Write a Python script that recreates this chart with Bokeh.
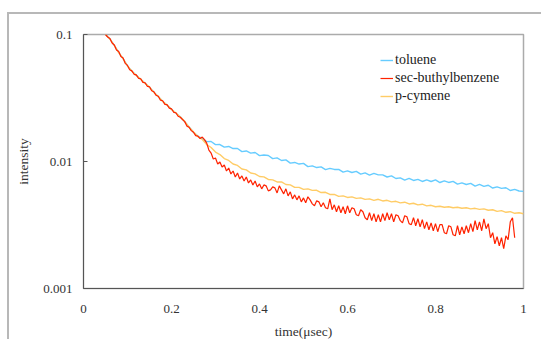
import numpy as np
from bokeh.plotting import figure
from bokeh.models import FixedTicker, CustomJSTickFormatter, Legend, LegendItem
from bokeh.embed import file_html
from bokeh.resources import INLINE

series_names = ["toluene", "sec-buthylbenzene", "p-cymene"]
x_ticks = [0, 0.2, 0.4, 0.6, 0.8, 1.0]
y_ticks = [0.001, 0.01, 0.1]

# time grids (usec)
time_tol = np.round(np.arange(0.05, 1.0001, 0.01), 3)     # toluene, p-cymene
time_sec = np.round(np.arange(0.05, 0.9801, 0.005), 3)    # sec-buthylbenzene

toluene = [
    0.1000, 0.0922, 0.0820, 0.0723, 0.0643, 0.0566, 0.0513, 0.0477, 0.0444, 0.0413,
    0.0384, 0.0351, 0.0324, 0.0298, 0.0277, 0.0258, 0.0240, 0.0225, 0.0206, 0.0187,
    0.0170,
    0.01585, 0.01516, 0.01434, 0.01437, 0.01358, 0.01360, 0.01297, 0.01314, 0.01265, 0.01267,
    0.01196, 0.01210, 0.01165, 0.01178, 0.01112, 0.01126, 0.01116, 0.01054, 0.01067, 0.01018,
    0.01029, 0.00971, 0.00983, 0.00955, 0.00966, 0.00911, 0.00923, 0.00896, 0.00907, 0.00864,
    0.00882, 0.00866, 0.00867, 0.00825, 0.00843, 0.00819, 0.00836, 0.00796, 0.00813, 0.00782,
    0.00807, 0.00784, 0.00784, 0.00755, 0.00771, 0.00735, 0.00743, 0.00714, 0.00736, 0.00709,
    0.00723, 0.00696, 0.00717, 0.00696, 0.00717, 0.00683, 0.00704, 0.00684, 0.00698, 0.00664,
    0.00679, 0.00659, 0.00673, 0.00641, 0.00661, 0.00637, 0.00650, 0.00618, 0.00632, 0.00614,
    0.00621, 0.00591, 0.00604, 0.00586, 0.00582,
]

p_cymene = [
    0.1000, 0.0920, 0.0822, 0.0721, 0.0645, 0.0565, 0.0514, 0.0476, 0.0445, 0.0412,
    0.0385, 0.0350, 0.0325, 0.0297, 0.0278, 0.0257, 0.0241, 0.0224, 0.0207, 0.0186,
    0.0171,
    0.01571, 0.01489, 0.01358, 0.01289, 0.01186, 0.01135, 0.01054, 0.01019, 0.00955, 0.00931,
    0.00873, 0.00859, 0.00812, 0.00799, 0.00762, 0.00756, 0.00722, 0.00717, 0.00690, 0.00691,
    0.00659, 0.00654, 0.00625, 0.00626, 0.00603, 0.00609, 0.00592, 0.00593, 0.00570, 0.00572,
    0.00550, 0.00551, 0.00531, 0.00536, 0.00521, 0.00527, 0.00512, 0.00517, 0.00503, 0.00508,
    0.00494, 0.00504, 0.00489, 0.00495, 0.00481, 0.00486, 0.00472, 0.00478, 0.00463, 0.00469,
    0.00455, 0.00461, 0.00447, 0.00452, 0.00440, 0.00444, 0.00436, 0.00440, 0.00432, 0.00436,
    0.00428, 0.00432, 0.00424, 0.00428, 0.00420, 0.00424, 0.00413, 0.00417, 0.00405, 0.00410,
    0.00398, 0.00403, 0.00391, 0.00395, 0.00388,
]

sec_buthylbenzene = [
    0.1000, 0.0956, 0.0930, 0.0858, 0.0827, 0.0756, 0.0736, 0.0672, 0.0654, 0.0592,
    0.0571, 0.0527, 0.0517, 0.0486, 0.0481, 0.0452, 0.0448, 0.0420, 0.0417, 0.0391,
    0.0388, 0.0361, 0.0354, 0.0332, 0.0326, 0.0304, 0.0301, 0.0282, 0.0280, 0.0263,
    0.0260, 0.0244, 0.0242, 0.0227, 0.0223, 0.0214, 0.0206, 0.0190, 0.0186, 0.0175,
    0.0170, 0.0160,
    0.01585, 0.01515, 0.01556, 0.01488, 0.01397, 0.01231, 0.01166, 0.01046, 0.01065, 0.00956,
    0.00991, 0.00905, 0.00939, 0.00842, 0.00889, 0.00798, 0.00842, 0.00756, 0.00812, 0.00729,
    0.00770, 0.00703, 0.00756, 0.00678, 0.00716, 0.00654, 0.00703, 0.00631, 0.00666, 0.00609,
    0.00654, 0.00643, 0.00587, 0.00598, 0.00631, 0.00620, 0.00566, 0.00643, 0.00598, 0.00556,
    0.00609, 0.00536, 0.00577, 0.00508, 0.00546, 0.00499, 0.00536, 0.00481, 0.00517, 0.00473,
    0.00527, 0.00499, 0.00464, 0.00448, 0.00490, 0.00481, 0.00440, 0.00473, 0.00432, 0.00424,
    0.00508, 0.00417, 0.00456, 0.00402, 0.00448, 0.00395, 0.00440, 0.00388, 0.00448, 0.00395,
    0.00432, 0.00424, 0.00381, 0.00374, 0.00417, 0.00402, 0.00361, 0.00348, 0.00395, 0.00342,
    0.00388, 0.00335, 0.00381, 0.00335, 0.00388, 0.00342, 0.00395, 0.00348, 0.00388, 0.00335,
    0.00381, 0.00374, 0.00342, 0.00329, 0.00374, 0.00367, 0.00324, 0.00318, 0.00361, 0.00312,
    0.00354, 0.00306, 0.00348, 0.00296, 0.00335, 0.00290, 0.00329, 0.00285, 0.00324, 0.00280,
    0.00318, 0.00318, 0.00275, 0.00270, 0.00312, 0.00306, 0.00265, 0.00260, 0.00312, 0.00265,
    0.00306, 0.00270, 0.00312, 0.00275, 0.00324, 0.00280, 0.00342, 0.00290, 0.00335, 0.00285,
    0.00354, 0.00296, 0.00324, 0.00251, 0.00275, 0.00225, 0.00256, 0.00217, 0.00251, 0.00206,
    0.00260, 0.00242, 0.00335, 0.00361, 0.00251,
]

colors = ["#66CCFF", "#FF2200", "#FFCC66"]
FONT = "Liberation Serif"

p = figure(
    width=534, height=327,
    x_range=(0, 1), y_range=(0.001, 0.1), y_axis_type="log",
    output_backend="svg", toolbar_location=None,
    min_border_left=74, min_border_top=20, min_border_right=20, min_border_bottom=52,
    styles={"margin-left": "7px", "margin-top": "12px",
            "border-top": "2px solid #b8b8b8", "border-left": "2px solid #b8b8b8"},
)
p.background_fill_color = "white"
p.border_fill_color = "white"
p.outline_line_color = "#ababab"
p.outline_line_width = 1.5
p.xgrid.visible = False
p.ygrid.visible = False

r_tol = p.line(time_tol, toluene, line_color=colors[0], line_width=1.4)
r_cym = p.line(time_tol, p_cymene, line_color=colors[2], line_width=1.4)
r_sec = p.line(time_sec, sec_buthylbenzene, line_color=colors[1], line_width=1.2)

# axes
xa = p.xaxis[0]
xa.ticker = FixedTicker(ticks=x_ticks)
xa.formatter = CustomJSTickFormatter(code="return tick.toFixed(1).replace(/\\.0$/, '');")
xa.major_tick_in = 0
xa.major_tick_out = 0
xa.minor_tick_line_color = None
xa.axis_line_color = "#555555"
xa.major_label_standoff = 16
xa.axis_label = "time(μsec)"
xa.axis_label_standoff = 8

ya = p.yaxis[0]
ya.ticker = FixedTicker(ticks=y_ticks)
ya.formatter = CustomJSTickFormatter(code="return tick.toString();")
ya.major_tick_in = 4
ya.major_tick_out = 0
ya.major_tick_line_color = "#555555"
ya.minor_tick_line_color = None
ya.axis_line_color = "#555555"
ya.major_label_standoff = 11
ya.axis_label = "intensity"
ya.axis_label_standoff = 9

for ax in (xa, ya):
    ax.major_label_text_font = FONT
    ax.major_label_text_font_size = "13px"
    ax.major_label_text_color = "#333333"
    ax.axis_label_text_font = FONT
    ax.axis_label_text_font_size = "13.5px"
    ax.axis_label_text_font_style = "normal"
    ax.axis_label_text_color = "#333333"

legend = Legend(
    items=[
        LegendItem(label=series_names[0], renderers=[r_tol]),
        LegendItem(label=series_names[1], renderers=[r_sec]),
        LegendItem(label=series_names[2], renderers=[r_cym]),
    ],
    location=(297, 183),
    orientation="vertical",
    glyph_width=13, glyph_height=18, label_height=18,
    label_standoff=2, spacing=0, padding=0, margin=0,
    border_line_alpha=0, background_fill_alpha=0,
    label_text_font=FONT, label_text_font_size="14px", label_text_color="#222222",
)
p.add_layout(legend, "center")

open("out.html", "w").write(file_html(p, INLINE))
